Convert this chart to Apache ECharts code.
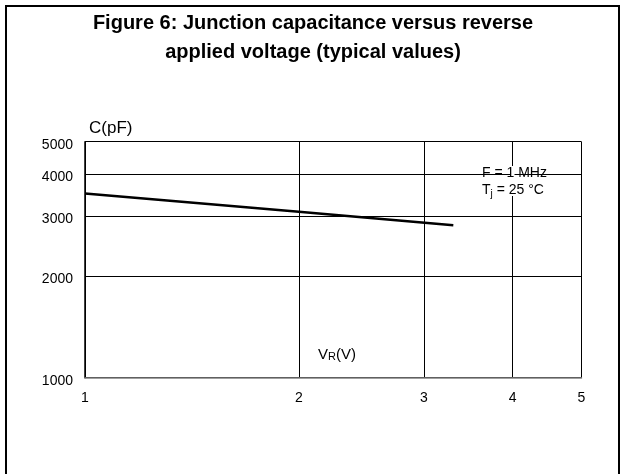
<!DOCTYPE html>
<html><head><meta charset="utf-8">
<script src="https://cdn.jsdelivr.net/npm/echarts@6/dist/echarts.min.js"></script>
<style>html,body{margin:0;padding:0;background:#fff}#c{width:626px;height:474px}</style>
</head><body><div id="c"></div>
<script>
const titleLines = ['Figure 6: Junction capacitance versus reverse', 'applied voltage (typical values)'];
const voltage = [1, 2, 3.3];
const capacitance = [3510, 3100, 2830];
const xTicks = [1, 2, 3, 4, 5];
const yTicks = [1000, 2000, 3000, 4000, 5000];
const yName = 'C(pF)';
const noteLines = ['F = 1 MHz', 'T{s|j} = 25 °C'];

const FONT = 'Liberation Sans, Arial, sans-serif';
const chart = echarts.init(document.getElementById('c'));
chart.setOption({
  animation: false,
  backgroundColor: '#fff',
  title: {
    text: titleLines.join('\n'),
    left: 'center', top: 4,
    textStyle: {fontFamily: FONT, fontSize: 20, fontWeight: 'bold', color: '#000', lineHeight: 29}
  },
  grid: {left: 85, right: 44.5, top: 141.7, bottom: 96.3},
  xAxis: {
    type: 'log', logBase: 10, min: 1, max: 5,
    axisLine: {show: true, lineStyle: {color: '#808080', width: 1.5}},
    axisTick: {show: false, customValues: xTicks},
    axisLabel: {customValues: xTicks, color: '#000', fontSize: 14, margin: 13, fontFamily: FONT, formatter: v => String(v)},
    splitLine: {show: true, lineStyle: {color: '#000', width: 1}}
  },
  yAxis: {
    type: 'log', logBase: 10, min: 1000, max: 5000,
    name: yName, nameLocation: 'end', nameGap: 13,
    nameTextStyle: {align: 'left', verticalAlign: 'middle', fontSize: 17, color: '#000', fontFamily: FONT, padding: [0, 0, 0, 4]},
    axisLine: {show: true, lineStyle: {color: '#000', width: 1.5}},
    axisTick: {show: false, customValues: yTicks},
    axisLabel: {
      customValues: yTicks, color: '#000', fontSize: 14, margin: 12, fontFamily: FONT,
      formatter: v => '{d|' + v + '}',
      rich: {d: {fontSize: 14, fontFamily: FONT, color: '#000', padding: [6, 0, 0, 0]}}
    },
    splitLine: {show: true, lineStyle: {color: '#000', width: 1}}
  },
  graphic: [
    {type: 'polyline', shape: {points: [[6, 474], [6, 6], [619, 6], [619, 474]]}, style: {stroke: '#000', lineWidth: 2, fill: null}, z: 10},
    {type: 'rect', shape: {x: 510.5, y: 166, width: 4, height: 30}, style: {fill: '#fff'}, z: 5},
    {type: 'text', x: 482, y: 173, style: {text: noteLines[0], font: '14px ' + FONT, fill: '#000', verticalAlign: 'middle'}, z: 6},
    {type: 'text', x: 482, y: 190, style: {text: noteLines[1], font: '14px ' + FONT, fill: '#000', verticalAlign: 'middle', rich: {s: {fontSize: 10, verticalAlign: 'bottom', padding: [8, 0, 0, 0], fontFamily: FONT}}}, z: 6},
    {type: 'text', x: 318, y: 355, style: {text: 'V{r|R}(V)', font: '15px ' + FONT, fill: '#000', verticalAlign: 'middle', rich: {r: {fontSize: 11, fontFamily: FONT, padding: [3, 0, 0, 0]}}}, z: 6}
  ],
  series: [{
    type: 'line', data: voltage.map((v, i) => [v, capacitance[i]]),
    showSymbol: false, lineStyle: {color: '#000', width: 2.5}
  }]
});
</script></body></html>
